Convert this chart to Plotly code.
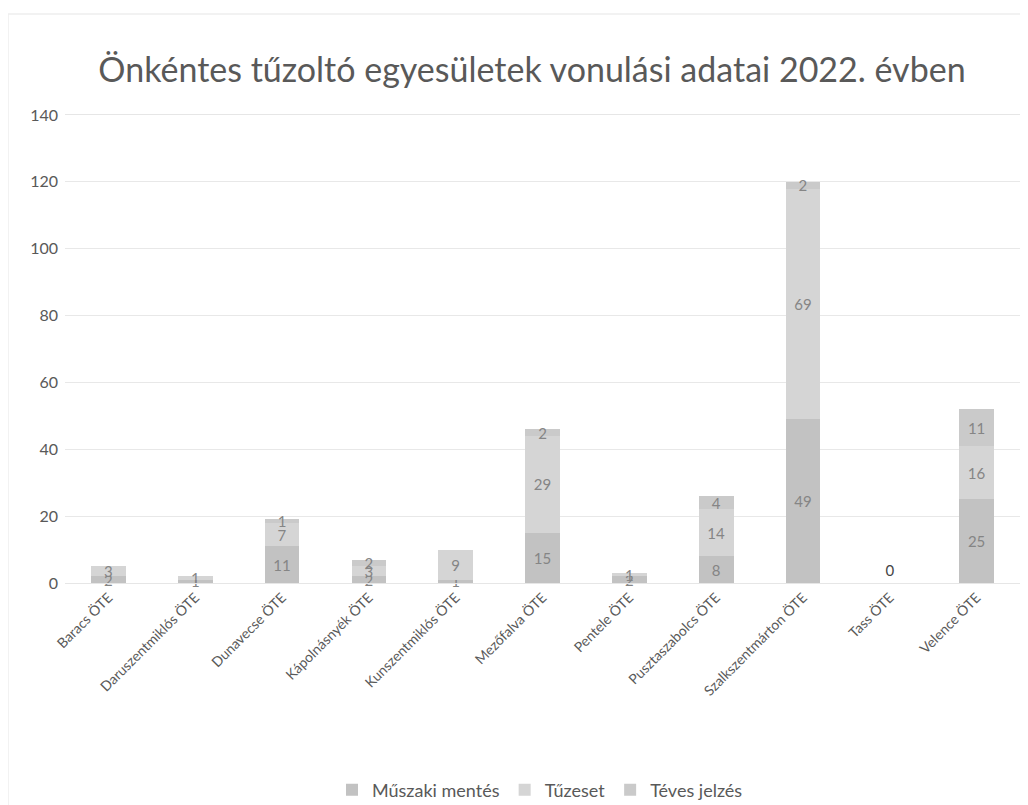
import plotly.graph_objects as go

categories = ["Baracs ÖTE", "Daruszentmiklós ÖTE", "Dunavecse ÖTE", "Kápolnásnyék ÖTE",
              "Kunszentmiklós ÖTE", "Mezőfalva ÖTE", "Pentele ÖTE", "Pusztaszabolcs ÖTE",
              "Szalkszentmárton ÖTE", "Tass ÖTE", "Velence ÖTE"]
muszaki = [2, 1, 11, 2, 1, 15, 2, 8, 49, 0, 25]
tuzeset = [3, 1, 7, 3, 9, 29, 1, 14, 69, 0, 16]
teves = [0, 0, 1, 2, 0, 2, 0, 4, 2, 0, 11]
series_names = ["Műszaki mentés", "Tűzeset", "Téves jelzés"]
series_colors = ["#c2c2c2", "#d5d5d5", "#cacaca"]

fig = go.Figure()
for name, vals, col in zip(series_names, [muszaki, tuzeset, teves], series_colors):
    texts = []
    positions = []
    for c, v in zip(categories, vals):
        if c == "Tass ÖTE":
            if name == "Téves jelzés":
                texts.append(str(v))
                positions.append("outside")
            else:
                texts.append("")
                positions.append("none")
        else:
            texts.append(str(v))
            positions.append("inside")
    fig.add_trace(go.Bar(
        x=categories, y=vals, name=name,
        marker=dict(color=col, line=dict(width=0)),
        text=texts, textposition=positions, insidetextanchor="middle",
        textangle=0, constraintext="none", cliponaxis=False,
        textfont=dict(family="Lato, sans-serif", size=15, color="#858585"),
        outsidetextfont=dict(family="Lato, sans-serif", size=17, color="#454545"),
        hoverinfo="x+y+name",
    ))

fig.update_layout(
    barmode="stack",
    bargap=0.6,
    width=1028, height=805,
    paper_bgcolor="white", plot_bgcolor="white",
    margin=dict(l=57, r=16, t=107, b=230),
    title=dict(text="Önkéntes tűzoltó egyesületek vonulási adatai 2022. évben",
               x=0.5097, xref="container", xanchor="center",
               y=0.923, yref="container", yanchor="middle",
               font=dict(family="Lato, sans-serif", size=34, color="#595959")),
    font=dict(family="Lato, sans-serif", size=15, color="#595959"),
    uniformtext=dict(minsize=15, mode="show"),
    xaxis=dict(tickangle=-45, showline=True, mirror=True, linecolor="#e6e6e6", linewidth=1,
               ticks="", automargin=False, tickfont=dict(size=14, color="#595959")),
    yaxis=dict(range=[0, 140], dtick=20, showgrid=True, gridcolor="#e8e8e8",
               zeroline=False, ticks="", automargin=False, ticklabelstandoff=6,
               tickfont=dict(size=16, color="#595959")),
    legend=dict(orientation="h", xref="container", x=0.5175, xanchor="center",
                yref="container", y=0.0286, yanchor="middle",
                font=dict(size=18, color="#595959"), traceorder="normal",
                bgcolor="rgba(0,0,0,0)", itemwidth=30),
    shapes=[dict(type="rect", xref="paper", yref="paper",
                 x0=-57/955, x1=1.05, y0=-0.52, y1=(107 - 6) / 468 + 1,
                 line=dict(color="#eeeeee", width=1.5), layer="below")],
)

fig.write_html("out.html")
